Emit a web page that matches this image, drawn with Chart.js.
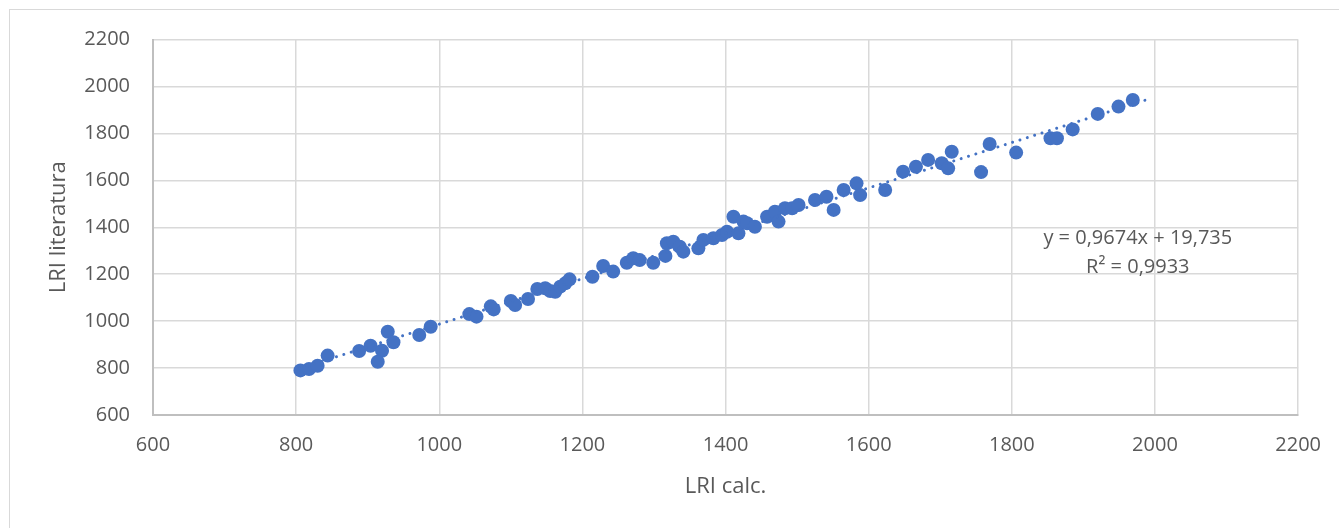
<!DOCTYPE html>
<html>
<head>
<meta charset="utf-8">
<script src="https://cdn.jsdelivr.net/npm/chart.js@4.4.0/dist/chart.umd.min.js"></script>
<style>
  html, body { margin: 0; padding: 0; background: #fff; overflow: hidden; }
  #frame { position: absolute; left: 9px; top: 9px; width: 1400px; height: 600px; border: 1.5px solid #d9d9d9; }
  #wrap { position: absolute; left: 0; top: 0; width: 1339px; height: 528px; }
</style>
</head>
<body>
<div id="frame"></div>
<div id="wrap"><canvas id="chart" width="1339" height="528"></canvas></div>
<script>
// LRI calculé vs LRI de la littérature
const LRI_CALC = [
  806, 818, 830, 844, 888, 904, 920, 914, 928, 936, 972, 988,
  1042, 1052, 1072, 1076, 1100, 1106, 1124, 1137, 1148, 1155, 1162, 1169,
  1176, 1182, 1214, 1229, 1243, 1262, 1271, 1280, 1299, 1316, 1318, 1327,
  1336, 1341, 1362, 1369, 1383, 1395, 1402, 1411, 1418, 1425, 1430, 1441,
  1458, 1469, 1474, 1483, 1493, 1502, 1525, 1541, 1551, 1565, 1583, 1588,
  1623, 1648, 1666, 1683, 1702, 1716, 1711, 1757, 1769, 1806, 1854, 1863,
  1885, 1920, 1949, 1969
];
const LRI_LIT = [
  790, 796, 810, 853, 873, 895, 874, 827, 955, 910, 941, 976,
  1030, 1019, 1063, 1050, 1086, 1069, 1094, 1137, 1140, 1128, 1125, 1147,
  1161, 1178, 1189, 1235, 1211, 1249, 1268, 1260, 1249, 1278, 1332, 1338,
  1317, 1296, 1310, 1346, 1353, 1367, 1381, 1445, 1374, 1424, 1417, 1402,
  1445, 1466, 1424, 1481, 1481, 1495, 1516, 1530, 1474, 1559, 1587, 1537,
  1559, 1637, 1658, 1687, 1673, 1722, 1651, 1635, 1755, 1718, 1779, 1779,
  1817, 1883, 1914, 1942
];

// tendance linéaire (Excel) : y = a·x + b
const SLOPE = 0.9674;
const INTERCEPT = 19.735;
const R2 = 0.9933;
const TREND_X = [805, 1990];

const X_TICKS = [600, 800, 1000, 1200, 1400, 1600, 1800, 2000, 2200];
const Y_TICKS = [600, 800, 1000, 1200, 1400, 1600, 1800, 2000, 2200];

const BLUE = "#4472c4";
const TEXT = "#595959";
const GRID = "#d9d9d9";
const FONT = "'Open Sans', sans-serif";

const fmt = v => String(v).replace(".", ",");

// équation + R² écrits à côté de la droite
const equationLabel = {
  id: "equationLabel",
  afterDatasetsDraw(chart) {
    const { ctx, scales } = chart;
    const x = scales.x.getPixelForValue(1976);
    const y = scales.y.getPixelForValue(1354);
    ctx.save();
    ctx.fillStyle = TEXT;
    ctx.font = `20px ${FONT}`;
    ctx.textAlign = "center";
    ctx.textBaseline = "middle";
    ctx.fillText(`y = ${fmt(SLOPE)}x + ${fmt(INTERCEPT)}`, x, y);
    ctx.fillText(`R² = ${fmt(R2)}`, x, y + 29);
    ctx.restore();
  }
};

new Chart(document.getElementById("chart"), {
  type: "scatter",
  data: {
    datasets: [
      {
        type: "line",
        label: "Tendance",
        data: TREND_X.map(x => ({ x, y: SLOPE * x + INTERCEPT })),
        borderColor: BLUE,
        borderWidth: 3,
        borderDash: [0.01, 7.7],
        borderCapStyle: "round",
        pointRadius: 0,
        fill: false,
        order: 0
      },
      {
        label: "LRI",
        data: LRI_CALC.map((x, i) => ({ x, y: LRI_LIT[i] })),
        backgroundColor: BLUE,
        borderColor: BLUE,
        borderWidth: 0,
        pointRadius: 7,
        order: 1
      }
    ]
  },
  options: {
    responsive: false,
    animation: false,
    layout: { padding: { left: 42, top: 39.5, right: 39, bottom: 24 } },
    plugins: { legend: { display: false }, tooltip: { enabled: false } },
    scales: {
      x: {
        type: "linear",
        min: 600, max: 2200,
        afterBuildTicks: s => { s.ticks = X_TICKS.map(value => ({ value })); },
        afterFit: s => { s.height = 89; },
        grid: { color: GRID, lineWidth: 1.5, drawTicks: false },
        border: { color: "#bfbfbf", width: 2 },
        ticks: { color: TEXT, font: { family: FONT, size: 20 }, padding: 18, callback: v => String(v) },
        title: { display: true, text: "LRI calc.", color: TEXT, font: { family: FONT, size: 22 } }
      },
      y: {
        type: "linear",
        min: 600, max: 2200,
        afterBuildTicks: s => { s.ticks = Y_TICKS.map(value => ({ value })); },
        afterFit: s => { s.width = 111; },
        grid: { color: GRID, lineWidth: 1.5, drawTicks: false },
        border: { color: "#bfbfbf", width: 2 },
        ticks: { color: TEXT, font: { family: FONT, size: 20 }, padding: 23, callback: v => String(v) },
        title: { display: true, text: "LRI literatura", color: TEXT, font: { family: FONT, size: 22 } }
      }
    }
  },
  plugins: [equationLabel]
});
</script>
</body>
</html>
